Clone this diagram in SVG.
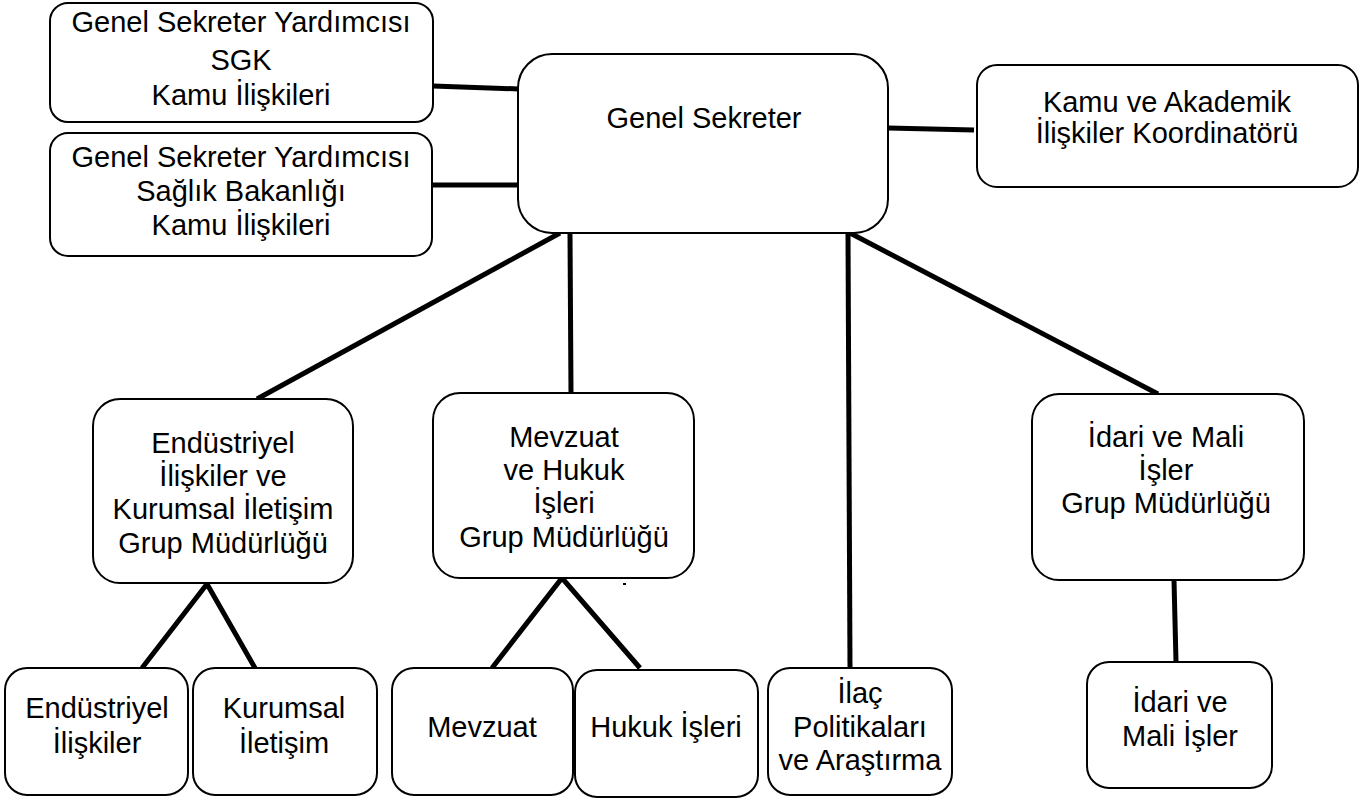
<svg xmlns="http://www.w3.org/2000/svg" width="1360" height="798" viewBox="0 0 1360 798">
<style>
.box{fill:#fff;stroke:#000;stroke-width:2}
.t{font-family:"Liberation Sans",Arial,sans-serif;font-size:29px;fill:#000;text-anchor:middle}
.c{stroke:#000;stroke-width:5;fill:none}
</style>
<rect width="1360" height="798" fill="#fff"/>
<g id="connectors">
<line class="c" x1="433" y1="86" x2="519" y2="89"/>
<line class="c" x1="432" y1="185" x2="519" y2="185"/>
<line class="c" x1="888" y1="128" x2="974" y2="130"/>
<line class="c" x1="560" y1="233" x2="257" y2="399"/>
<line class="c" x1="570" y1="233" x2="571" y2="393"/>
<line class="c" x1="848" y1="233" x2="850" y2="668"/>
<line class="c" x1="850" y1="233" x2="1158" y2="394"/>
<line class="c" x1="1174" y1="580" x2="1176" y2="662"/>
<polyline class="c" points="142,668 207,584 255,668"/>
<polyline class="c" points="492,668 562,578 640,668"/>
<rect x="623" y="583" width="3" height="2" fill="#000"/>
</g>
<g id="n-sgk">
<rect class="box" x="50" y="3" width="383" height="119" rx="18"/>
<text class="t" x="241" y="32">Genel Sekreter Yardımcısı</text>
<text class="t" x="241" y="70">SGK</text>
<text class="t" x="241" y="105">Kamu İlişkileri</text>
</g>
<g id="n-saglik">
<rect class="box" x="50" y="133" width="382" height="123" rx="18"/>
<text class="t" x="241" y="167">Genel Sekreter Yardımcısı</text>
<text class="t" x="241" y="201">Sağlık Bakanlığı</text>
<text class="t" x="241" y="235">Kamu İlişkileri</text>
</g>
<g id="n-gs">
<rect class="box" x="518" y="54" width="370" height="179" rx="34"/>
<text class="t" x="704" y="128">Genel Sekreter</text>
</g>
<g id="n-kamu">
<rect class="box" x="977" y="65" width="381" height="122" rx="20"/>
<text class="t" x="1167" y="112">Kamu ve Akademik</text>
<text class="t" x="1167" y="143">İlişkiler Koordinatörü</text>
</g>
<g id="n-endgrp">
<rect class="box" x="93" y="399" width="260" height="184" rx="27"/>
<text class="t" x="223" y="453">Endüstriyel</text>
<text class="t" x="223" y="486">İlişkiler ve</text>
<text class="t" x="223" y="519">Kurumsal İletişim</text>
<text class="t" x="223" y="553">Grup Müdürlüğü</text>
</g>
<g id="n-mevgrp">
<rect class="box" x="433" y="393" width="261" height="185" rx="27"/>
<text class="t" x="564" y="447">Mevzuat</text>
<text class="t" x="564" y="480">ve Hukuk</text>
<text class="t" x="564" y="513">İşleri</text>
<text class="t" x="564" y="547">Grup Müdürlüğü</text>
</g>
<g id="n-idgrp">
<rect class="box" x="1032" y="394" width="272" height="186" rx="27"/>
<text class="t" x="1166" y="447">İdari ve Mali</text>
<text class="t" x="1166" y="480">İşler</text>
<text class="t" x="1166" y="513">Grup Müdürlüğü</text>
</g>
<g id="n-end">
<rect class="box" x="5" y="668" width="183" height="127" rx="22"/>
<text class="t" x="97" y="718">Endüstriyel</text>
<text class="t" x="97" y="753">İlişkiler</text>
</g>
<g id="n-kur">
<rect class="box" x="193" y="668" width="184" height="127" rx="22"/>
<text class="t" x="284" y="718">Kurumsal</text>
<text class="t" x="284" y="753">İletişim</text>
</g>
<g id="n-mev">
<rect class="box" x="392" y="668" width="181" height="127" rx="22"/>
<text class="t" x="482" y="737">Mevzuat</text>
</g>
<g id="n-huk">
<rect class="box" x="575" y="670" width="183" height="127" rx="22"/>
<text class="t" x="666" y="737">Hukuk İşleri</text>
</g>
<g id="n-ilac">
<rect class="box" x="768" y="668" width="184" height="127" rx="22"/>
<text class="t" x="860" y="703">İlaç</text>
<text class="t" x="860" y="737">Politikaları</text>
<text class="t" x="860" y="770">ve Araştırma</text>
</g>
<g id="n-idari">
<rect class="box" x="1087" y="662" width="185" height="126" rx="22"/>
<text class="t" x="1180" y="712">İdari ve</text>
<text class="t" x="1180" y="746">Mali İşler</text>
</g>
</svg>
